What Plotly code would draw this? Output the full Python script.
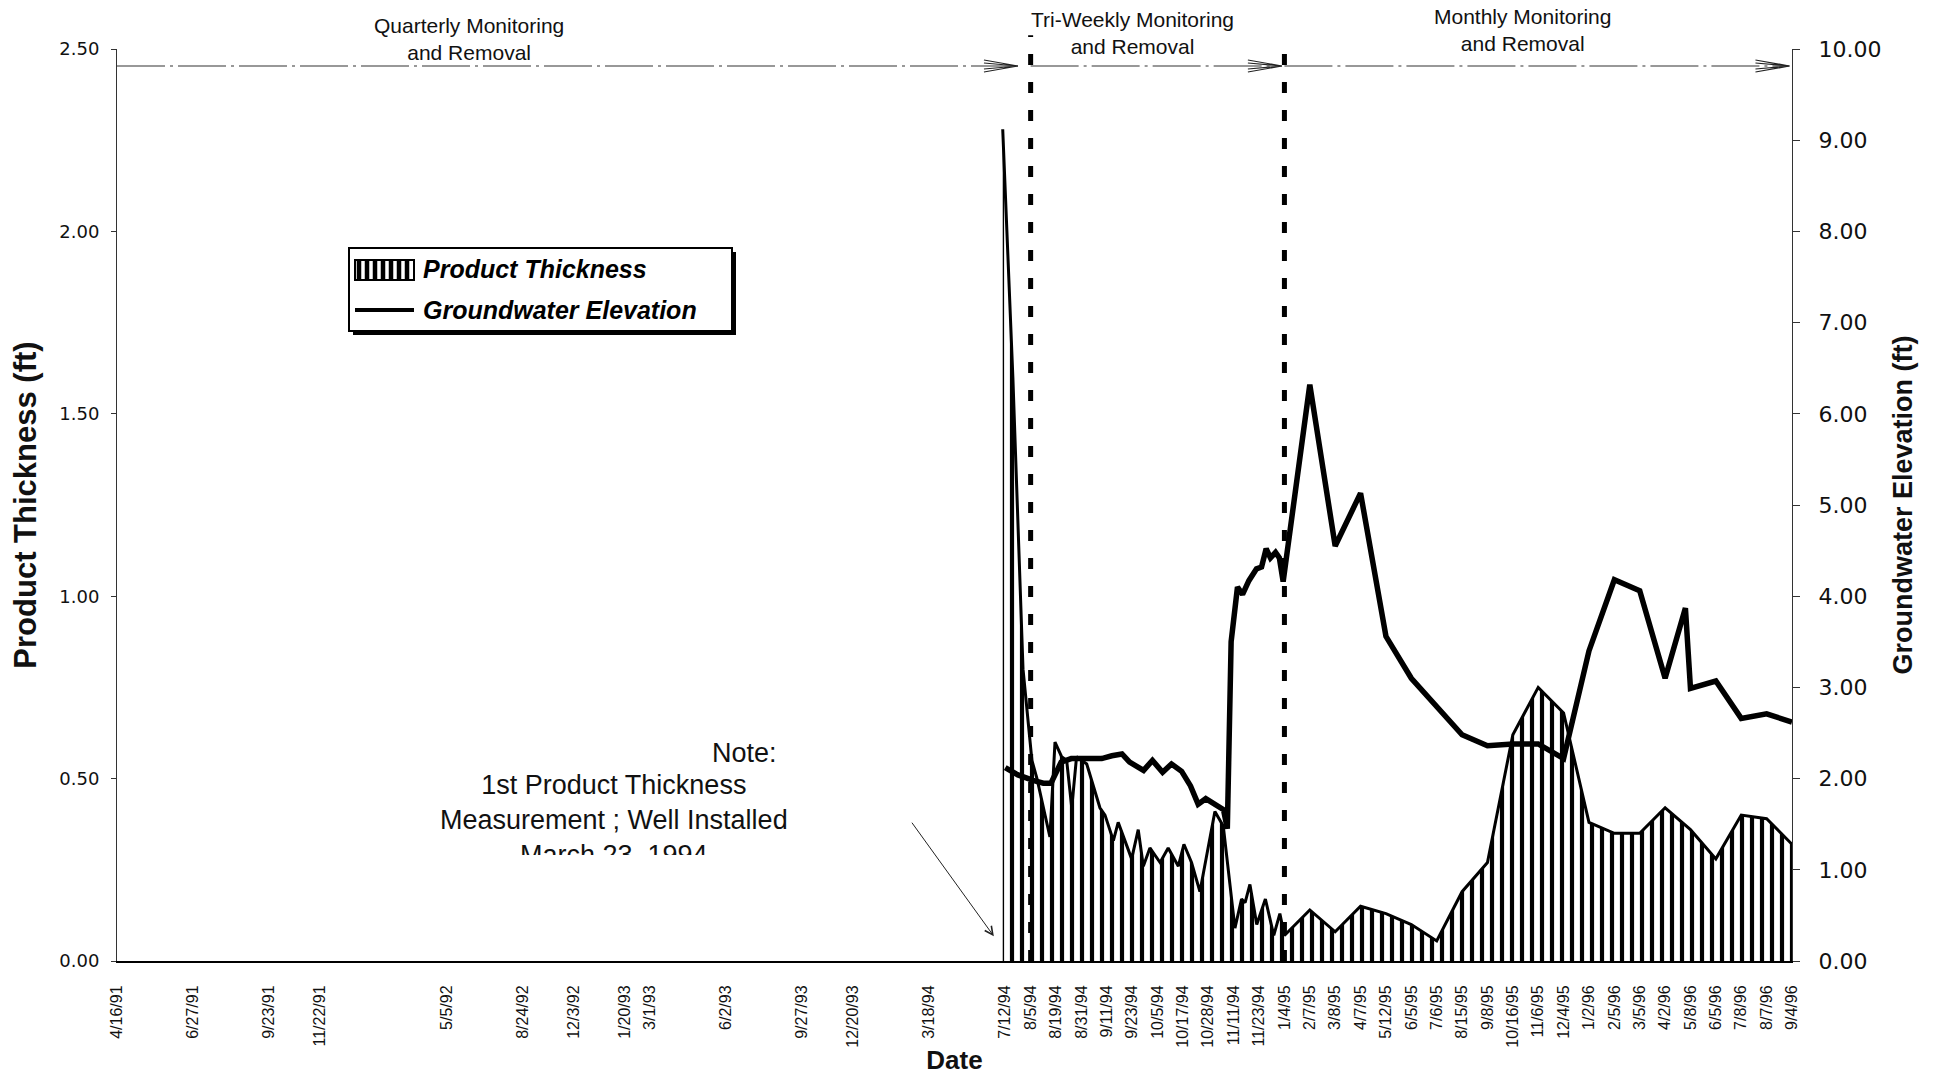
import plotly.graph_objects as go

# ---- data -----------------------------------------------------------------
# Category (sampling-event) axis: slot number of each labelled monitoring date
date_labels = [
    "4/16/91", "6/27/91", "9/23/91", "11/22/91", "5/5/92", "8/24/92", "12/3/92",
    "1/20/93", "3/1/93", "6/2/93", "9/27/93", "12/20/93", "3/18/94",
    "7/12/94", "8/5/94", "8/19/94", "8/31/94", "9/11/94", "9/23/94", "10/5/94",
    "10/17/94", "10/28/94", "11/11/94", "11/23/94", "1/4/95", "2/7/95", "3/8/95",
    "4/7/95", "5/12/95", "6/5/95", "7/6/95", "8/15/95", "9/8/95", "10/16/95",
    "11/6/95", "12/4/95", "1/2/96", "2/5/96", "3/5/96", "4/2/96", "5/8/96",
    "6/5/96", "7/8/96", "8/7/96", "9/4/96",
]
date_slots = [
    0, 3, 6, 8, 13, 16, 18, 20, 21, 24, 27, 29, 32,
    35, 36, 37, 38, 39, 40, 41, 42, 43, 44, 45, 46, 47, 48, 49, 50,
    51, 52, 53, 54, 55, 56, 57, 58, 59, 60, 61, 62, 63, 64, 65, 66,
]

# Product thickness (ft) - left axis
thickness_slot = [
    34.9, 35.3, 35.7, 36.05, 36.25, 36.76, 36.96, 37.22, 37.42, 37.62, 37.81,
    38.21, 38.73, 38.93, 39.26, 39.45, 39.98, 40.24, 40.44, 40.7, 41.1, 41.42,
    41.82, 42.04, 42.34, 42.67, 43.26, 43.59, 44.05, 44.31, 44.45, 44.64, 44.91,
    45.25, 45.58, 45.82, 46.0, 47, 48, 49, 50, 51, 52, 53, 54, 55, 56, 57, 58,
    59, 60, 61, 62, 63, 64, 65, 66,
]
thickness_ft = [
    2.28, 1.6, 0.8, 0.55, 0.5, 0.34, 0.60, 0.56, 0.55, 0.42, 0.56,
    0.54, 0.42, 0.40, 0.33, 0.38, 0.28, 0.36, 0.26, 0.31, 0.27, 0.31,
    0.26, 0.32, 0.27, 0.19, 0.41, 0.37, 0.09, 0.17, 0.16, 0.21, 0.10,
    0.17, 0.07, 0.13, 0.07, 0.14, 0.08, 0.15, 0.13, 0.10, 0.055, 0.19, 0.27,
    0.62, 0.75, 0.68, 0.38, 0.35, 0.35, 0.42, 0.36, 0.28, 0.40, 0.39, 0.32,
]

# Groundwater elevation (ft) - right axis
elevation_slot = [
    35.0, 35.5, 36.1, 36.5, 36.8, 37.0, 37.2, 37.6, 38.0, 38.4, 38.8, 39.2,
    39.6, 39.9, 40.2, 40.45, 40.8, 41.2, 41.55, 41.95, 42.3, 42.6, 42.9, 43.3,
    43.6, 43.75, 43.9, 44.15, 44.35, 44.6, 44.9, 45.1, 45.28, 45.45, 45.65,
    45.8, 45.95, 47, 48, 49, 50, 51, 52, 53, 54, 55, 56, 57, 58, 59, 60, 61,
    61.8, 62, 63, 64, 65, 66,
]
elevation_ft = [
    2.12, 2.04, 1.98, 1.95, 1.95, 2.05, 2.18, 2.22, 2.22, 2.23, 2.22, 2.25,
    2.27, 2.18, 2.13, 2.09, 2.20, 2.07, 2.16, 2.08, 1.92, 1.72, 1.78, 1.72,
    1.66, 1.45, 3.5, 4.1, 4.02, 4.17, 4.30, 4.32, 4.52, 4.42, 4.48,
    4.42, 4.16, 6.32, 4.55, 5.13, 3.56, 3.10, 2.78, 2.48, 2.36, 2.38, 2.38,
    2.22, 3.40, 4.18, 4.06, 3.10, 3.87, 2.99, 3.07, 2.66, 2.71, 2.62,
]

# Monitoring phases: (label, centre slot, end slot of the bracket arrow)
phase_labels = ["Quarterly Monitoring<br>and Removal",
                "Tri-Weekly Monitoring<br>and Removal",
                "Monthly Monitoring<br>and Removal"]
phase_starts = [0, 36, 46]
phase_ends = [35.5, 45.9, 65.9]
phase_boundaries = [36, 46]   # 8/5/94 and 1/4/95

# ---- geometry helpers -----------------------------------------------------
W, H = 1936, 1077
L, R, T, B = 117, 144, 49, 116
PW, PH = W - L - R, H - T - B


def px(xp):
    return (xp - L) / PW


def py(yp):
    return (H - B - yp) / PH


FONT = "Liberation Sans, Arial, sans-serif"
NUMFONT = "DejaVu Sans, Verdana, sans-serif"

fig = go.Figure()

fig.add_trace(go.Scatter(
    x=thickness_slot, y=thickness_ft, mode="lines", name="Product Thickness",
    fill="tozeroy",
    line=dict(color="black", width=3),
    fillcolor="white",
    fillpattern=dict(shape="|", fgcolor="black", bgcolor="white", size=10, solidity=0.42),
    yaxis="y", showlegend=False,
))
fig.add_trace(go.Scatter(
    x=elevation_slot, y=elevation_ft, mode="lines", name="Groundwater Elevation",
    line=dict(color="black", width=5.5),
    yaxis="y2", showlegend=False,
))

shapes = []
annotations = []

# phase boundaries (heavy dotted verticals)
for i, xb in enumerate(phase_boundaries):
    shapes.append(dict(type="line", xref="x", yref="paper", x0=xb, x1=xb,
                       y0=0, y1=1.015 if i == 0 else 1.0,
                       line=dict(color="black", width=5, dash="11px,17px"), layer="above"))

# phase bracket arrows and labels
arrow_y = py(66)
label_y = [py(39), py(33), py(30)]
label_x = [13.87, 40.0, 55.4]
for lab, x0, x1, lx, ly in zip(phase_labels, phase_starts, phase_ends, label_x, label_y):
    shapes.append(dict(type="line", xref="x", yref="paper", x0=x0, x1=x1,
                       y0=arrow_y, y1=arrow_y,
                       line=dict(color="#333", width=1.2, dash="48px,5px,3px,5px")))
    shapes.append(dict(type="path", xref="x", yref="paper",
                       xsizemode="pixel", ysizemode="pixel",
                       xanchor=x1, yanchor=arrow_y,
                       path="M-34,6 L0,0 L-34,-6 M-34,3 L0,0 L-34,-3",
                       line=dict(color="#222", width=1.2)))
    annotations.append(dict(text=lab, x=lx, xref="x", y=ly, yref="paper",
                            showarrow=False, xanchor="center", yanchor="middle",
                            font=dict(family=FONT, size=21, color="#111")))

# note with arrow to the first measurement
annotations.append(dict(text="Note:", x=px(779), y=py(753), xref="paper", yref="paper",
                        showarrow=False, xanchor="right", yanchor="middle",
                        font=dict(family=FONT, size=27, color="#111")))
annotations.append(dict(text="1st Product Thickness<br>Measurement ; Well Installed<br>March 23, 1994",
                        x=px(614), y=py(769), xref="paper", yref="paper",
                        showarrow=False, xanchor="center", yanchor="top", valign="top",
                        height=85, borderpad=0,
                        font=dict(family=FONT, size=27, color="#111")))
annotations.append(dict(text="", x=34.55, y=0.068, xref="x", yref="y",
                        showarrow=True, arrowhead=5, arrowsize=1.6, arrowwidth=1,
                        arrowcolor="#222", ax=-83, ay=-115))

# legend box with drop shadow
lx0, lx1, ly0, ly1 = 349, 732, 248, 331
shapes.append(dict(type="rect", xref="paper", yref="paper",
                   x0=px(lx0 + 4), x1=px(lx1 + 4), y0=py(ly0 + 4), y1=py(ly1 + 4),
                   fillcolor="black", line=dict(width=0), layer="above"))
shapes.append(dict(type="rect", xref="paper", yref="paper",
                   x0=px(lx0), x1=px(lx1), y0=py(ly0), y1=py(ly1),
                   fillcolor="white", line=dict(color="black", width=2), layer="above"))
# hatched swatch
sw_x0, sw_x1, sw_y0, sw_y1 = 355, 414, 260, 280
shapes.append(dict(type="rect", xref="paper", yref="paper",
                   x0=px(sw_x0), x1=px(sw_x1), y0=py(sw_y0), y1=py(sw_y1),
                   fillcolor="white", line=dict(color="black", width=2), layer="above"))
stripe_path = "".join(f"M{px(xx)},{py(sw_y0)} V{py(sw_y1)} " for xx in range(sw_x0 + 4, sw_x1, 8))
shapes.append(dict(type="path", xref="paper", yref="paper", path=stripe_path,
                   line=dict(color="black", width=4.5), layer="above"))
# line swatch
shapes.append(dict(type="line", xref="paper", yref="paper",
                   x0=px(sw_x0), x1=px(sw_x1), y0=py(310), y1=py(310),
                   line=dict(color="black", width=4), layer="above"))
for txt, yy in [("Product Thickness", 269), ("Groundwater Elevation", 310)]:
    annotations.append(dict(text=f"<b><i>{txt}</i></b>", x=px(421), y=py(yy),
                            xref="paper", yref="paper", showarrow=False,
                            xanchor="left", yanchor="middle",
                            font=dict(family=FONT, size=25, color="black")))

fig.update_layout(
    template="none",
    width=W, height=H, autosize=False,
    margin=dict(l=L, r=R, t=T, b=B, pad=0),
    paper_bgcolor="white", plot_bgcolor="white",
    showlegend=False,
    xaxis=dict(
        range=[0, 66], tickmode="array", tickvals=date_slots, ticktext=date_labels,
        tickangle=-90, tickfont=dict(family=FONT, size=16, color="#111"),
        showgrid=False, zeroline=False, showline=True, linecolor="black", linewidth=2,
        ticks="", ticklabelstandoff=16, automargin=False,
        title=dict(text="<b>Date</b>", font=dict(family=FONT, size=26, color="#111"), standoff=4),
    ),
    yaxis=dict(
        range=[0, 2.5], dtick=0.5, tickformat=".2f",
        tickfont=dict(family=NUMFONT, size=18, color="#111"),
        showgrid=False, zeroline=False, showline=True, linecolor="#333", linewidth=1,
        ticks="outside", ticklen=5, tickwidth=1, tickcolor="#333",
        ticklabelstandoff=8, automargin=False,
        title=dict(text="<b>Product Thickness (ft)</b>",
                   font=dict(family=FONT, size=31, color="#111"), standoff=13),
    ),
    yaxis2=dict(
        overlaying="y", side="right", range=[0, 10], dtick=1, tickformat=".2f",
        tickfont=dict(family=NUMFONT, size=22, color="#111"),
        showgrid=False, zeroline=False, showline=True, linecolor="#333", linewidth=1,
        ticks="outside", ticklen=7, tickwidth=1, tickcolor="#333",
        ticklabelstandoff=14, automargin=False,
        title=dict(text="<b>Groundwater Elevation (ft)</b>",
                   font=dict(family=FONT, size=27, color="#111"), standoff=12),
    ),
    shapes=shapes,
    annotations=annotations,
)

fig.write_html("out.html")
